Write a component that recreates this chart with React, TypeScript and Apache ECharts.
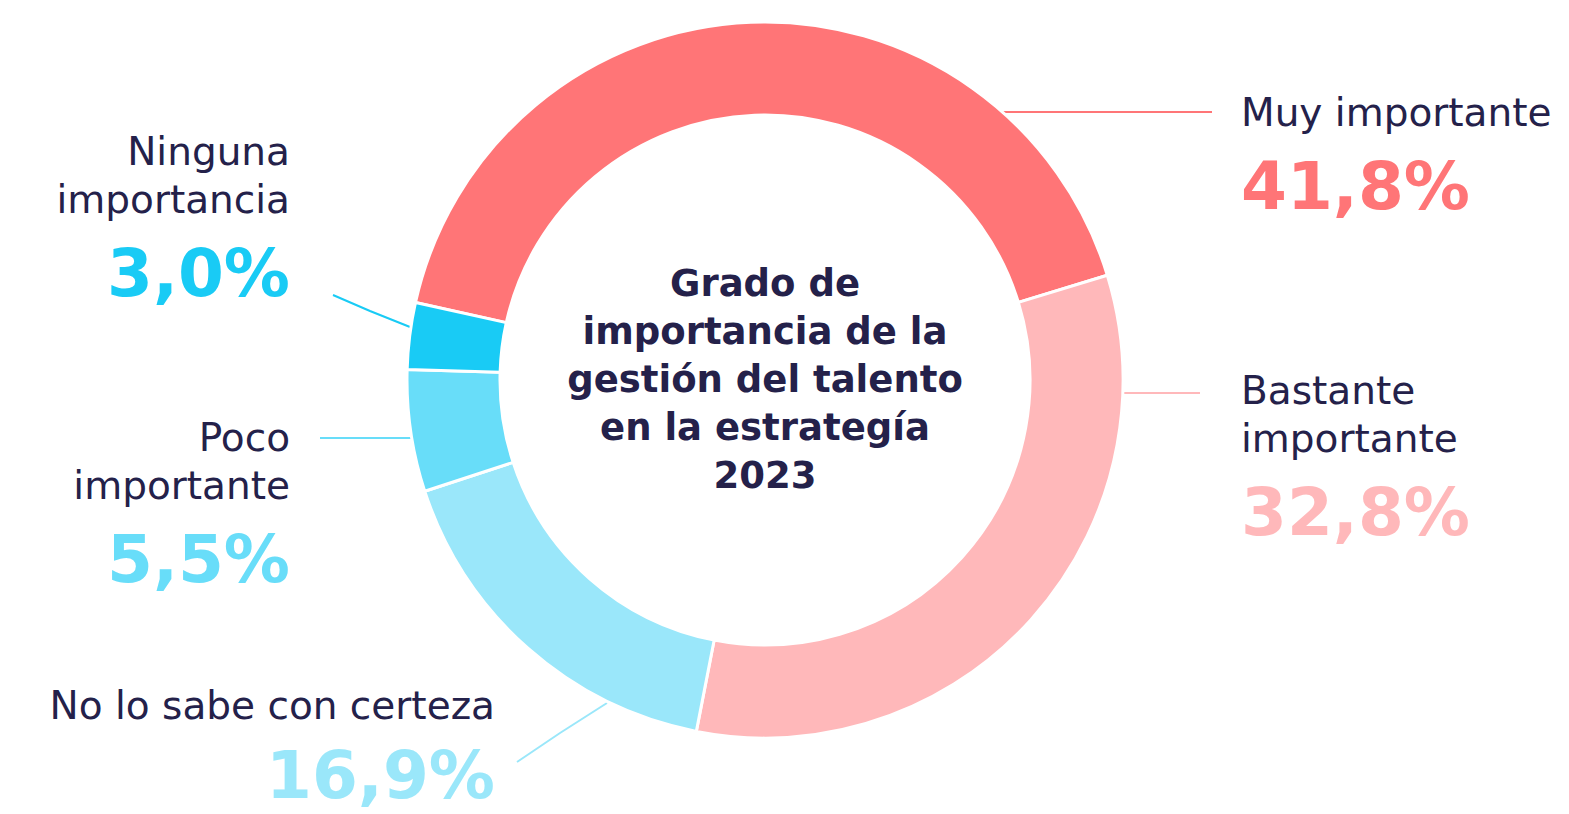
import React, { useEffect, useRef } from "react";
import * as echarts from "echarts";

const categories = [
  "Muy importante",
  "Bastante\nimportante",
  "No lo sabe con certeza",
  "Poco\nimportante",
  "Ninguna\nimportancia",
];
const values = [41.8, 32.8, 16.9, 5.5, 3.0];
const colors = ["#FF7577", "#FFB8BA", "#9AE7FA", "#68DDF9", "#19CBF5"];
const centerTitle = "Grado de\nimportancia de la\ngestión del talento\nen la estrategía\n2023";

const TEXT = "#24214A";
const FONT = "DejaVu Sans";

// label layout (position only)
const labelPos = [
  { x: 1241, y: 88, align: "left", gap: 14, line: [[1003, 112], [1100, 112], [1212, 112]] },
  { x: 1241, y: 366, align: "left", gap: 14, line: [[1122, 393], [1160, 393], [1200, 393]] },
  { x: 495, y: 681, align: "right", gap: 10, line: [[607, 703], [560, 733], [517, 762]] },
  { x: 290, y: 413, align: "right", gap: 14, line: [[413, 438], [360, 438], [320, 438]] },
  { x: 290, y: 127, align: "right", gap: 14, line: [[410, 327], [370, 311], [333, 295]] },
];

export default function App() {
  const ref = useRef<HTMLDivElement>(null);
  useEffect(() => {
    if (!ref.current) return;
    const chart = echarts.init(ref.current, undefined, { renderer: "svg" });
    chart.setOption({
      animation: false,
      backgroundColor: "#ffffff",
      graphic: [
        {
          type: "text",
          x: 765,
          y: 379,
          style: {
            text: centerTitle,
            fill: TEXT,
            fontFamily: FONT,
            fontSize: 37,
            fontWeight: "bold",
            lineHeight: 48,
            align: "center",
            verticalAlign: "middle",
          },
        },
      ],
      series: [
        {
          type: "pie",
          center: [765, 380],
          radius: [265, 358],
          startAngle: 167.5,
          clockwise: true,
          avoidLabelOverlap: false,
          itemStyle: { borderColor: "#ffffff", borderWidth: 3 },
          data: categories.map((name, i) => ({
            name,
            value: values[i],
            itemStyle: { color: colors[i] },
            label: {
              rich: {
                name: { fontFamily: FONT, fontSize: 39, color: TEXT, lineHeight: 48, align: labelPos[i].align },
                gap: { fontSize: 10, lineHeight: labelPos[i].gap, align: labelPos[i].align },
                val: {
                  fontFamily: FONT,
                  fontSize: 66,
                  fontWeight: "bold",
                  color: colors[i],
                  lineHeight: 72,
                  align: labelPos[i].align,
                },
              },
            },
            labelLine: { lineStyle: { color: colors[i], width: 2 } },
          })),
          label: {
            show: true,
            position: "outside",
            formatter: (p: any) => {
              const lines = String(p.name).split("\n").map((l: string) => `{name|${l}}`).join("\n");
              const v = Number(p.value).toFixed(1).replace(".", ",");
              return `${lines}\n{gap| }\n{val|${v}%}`;
            },
          },
          labelLine: { show: true, length: 10, length2: 10, smooth: false },
          labelLayout: (params: any) => {
            const lp = labelPos[params.dataIndex];
            return {
              x: lp.x,
              y: lp.y,
              align: lp.align,
              verticalAlign: "top",
              labelLinePoints: lp.line,
            };
          },
          emphasis: { disabled: true },
        },
      ],
    });
    return () => chart.dispose();
  }, []);
  return (
    <div
      ref={ref}
      style={{ position: "fixed", left: 0, top: 0, width: 1569, height: 814, background: "#fff" }}
    />
  );
}
